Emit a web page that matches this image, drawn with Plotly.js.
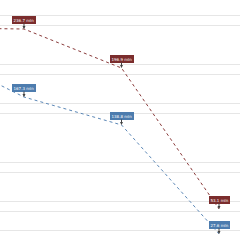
<!DOCTYPE html>
<html>
<head>
<meta charset="utf-8">
<script src="https://cdn.plot.ly/plotly-3.0.1.min.js"></script>
<style>html,body{margin:0;padding:0;background:#fff}#chart{width:240px;height:240px}</style>
</head>
<body>
<div id="chart"></div>
<script>
const years = [2020, 2021, 2022, 2023];
const seriesA = [238, 236.7, 196.9, 53.1];
const seriesB = [217, 167.3, 138.8, 27.6];
const labelsA = ["", "236.7 mln", "196.9 mln", "53.1 mln"];
const labelsB = ["", "167.3 mln", "138.8 mln", "27.6 mln"];
const gridVals = [30.6, 50, 60.2, 89.8, 100, 150, 160.2, 189.8, 200, 239.8, 250, 265.3];

const redLine = '#8a3b3b', redBox = '#7b2d2d';
const blueLine = '#5b87b6', blueBox = '#4d7cae';

const traces = [
  {x: years, y: seriesA, mode: 'lines', line: {color: redLine, width: 1, dash: 'dot'}, hoverinfo: 'none'},
  {x: years, y: seriesB, mode: 'lines', line: {color: blueLine, width: 1, dash: 'dot'}, hoverinfo: 'none'}
];

const annotations = [];
function addAnn(xs, ys, labels, bg) {
  for (let i = 0; i < xs.length; i++) {
    if (!labels[i]) continue;
    annotations.push({
      x: xs[i], y: ys[i], xref: 'x', yref: 'y',
      text: labels[i], showarrow: true, ax: 0, ay: -9,
      arrowhead: 2, arrowsize: 0.6, arrowwidth: 1, arrowcolor: '#444',
      bgcolor: bg, bordercolor: bg, borderpad: 0.5,
      font: {family: 'DejaVu Sans', size: 4, color: '#ffffff'}
    });
  }
}
addAnn(years, seriesA, labelsA, redBox);
addAnn(years, seriesB, labelsB, blueBox);

const layout = {
  width: 240, height: 240,
  margin: {l: 0, r: 0, t: 0, b: 0},
  paper_bgcolor: '#fff', plot_bgcolor: '#fff',
  showlegend: false,
  xaxis: {range: [2020.754, 2023.215], showgrid: false, zeroline: false, showticklabels: false, showline: false, ticks: ''},
  yaxis: {range: [21.4, 266.3], tickmode: 'array', tickvals: gridVals, showgrid: true, gridcolor: '#e6e6e6', gridwidth: 1, zeroline: false, showticklabels: false, ticks: ''},
  annotations: annotations
};
Plotly.newPlot('chart', traces, layout, {staticPlot: true, displayModeBar: false});
</script>
</body>
</html>
